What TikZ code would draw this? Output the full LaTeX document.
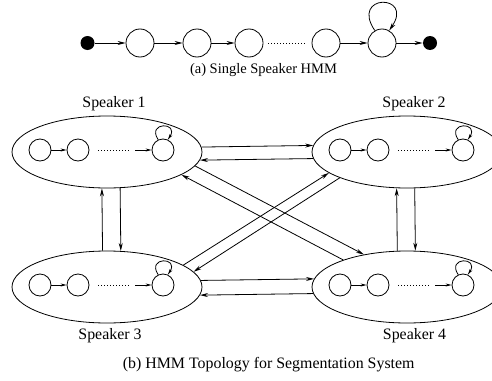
\documentclass[tikz,border=0pt]{standalone}
\usepackage{fontspec}
\setmainfont{Liberation Serif}
\usetikzlibrary{shapes.geometric,arrows.meta,calc}
\tikzset{
  arr/.style={-{Stealth[length=8pt,width=4pt]}},
  sarr/.style={-{Stealth[length=6pt,width=3pt]}},
  state/.style={circle,draw,minimum size=28pt,inner sep=0pt},
  sstate/.style={circle,draw,minimum size=22pt,inner sep=0pt},
  blackdot/.style={circle,fill,minimum size=14pt,inner sep=0pt},
  spk/.style={ellipse,draw,minimum width=190pt,minimum height=72pt,inner sep=0pt},
  lbl/.style={font=\fontsize{15.9}{18}\selectfont,inner sep=0pt},
  capa/.style={font=\fontsize{14.5}{17}\selectfont,inner sep=0pt},
  dotline/.style={dash pattern=on 0.8pt off 2.2pt}
}
\newcommand{\spkunit}[3]{%
  \node[spk] (#1) at (#2,#3) {};
  \node[sstate] (#1a) at ($(#2,#3)+(-67,2)$) {};
  \node[sstate] (#1b) at ($(#2,#3)+(-29,2)$) {};
  \node[sstate] (#1c) at ($(#2,#3)+(56,2)$) {};
  \coordinate (#1p) at ($(#2,#3)+(-9,2)$);
  \coordinate (#1q) at ($(#2,#3)+(23,2)$);
  \coordinate (#1r) at ($(#2,#3)+(28,2)$);
  \draw[sarr] (#1a) -- (#1b);
  \draw[dotline] (#1p) -- (#1q);
  \draw[sarr] (#1r) -- (#1c);
  \draw[sarr] (#1c.115) .. controls +(-12,18) and +(12,18) .. (#1c.65);
}
\begin{document}
\begin{tikzpicture}[x=1pt,y=1pt,line width=0.8pt]
\useasboundingbox (0,0) rectangle (492,-380);
% (a) single speaker HMM
\node[blackdot] (d0) at (87.5,-43) {};
\node[state] (t1) at (140,-43) {};
\node[state] (t2) at (197,-43) {};
\node[state] (t3) at (249,-43) {};
\node[state] (t4) at (326,-43) {};
\node[state] (t5) at (382,-43) {};
\node[blackdot] (d1) at (430,-43) {};
\coordinate (ta) at (268,-43);
\coordinate (tb) at (305,-43);
\draw[arr] (d0) -- (t1);
\draw[arr] (t1) -- (t2);
\draw[arr] (t2) -- (t3);
\draw[dotline] (ta) -- (tb);
\draw[arr] (t4) -- (t5);
\draw[arr] (t5) -- (d1);
\draw[arr] (t5.120) .. controls +(-25,37) and +(25,37) .. (t5.60);
\node[capa] (cap1) at (263.5,-70) {(a) Single Speaker HMM};
% (b) topology
\spkunit{s1}{107}{-152}
\spkunit{s2}{407}{-152}
\spkunit{s3}{107}{-287}
\spkunit{s4}{407}{-287}
\node[lbl] (l1) at (114,-104) {Speaker 1};
\node[lbl] (l2) at (414,-104) {Speaker 2};
\node[lbl] (l3) at (110,-336) {Speaker 3};
\node[lbl] (l4) at (414.5,-336) {Speaker 4};
\node[lbl] (cap2) at (268.7,-365) {(b) HMM Topology for Segmentation System};
% connectors
\draw[arr] (s1.3.66) -- (s2.176.34);
\draw[arr] (s2.184.94) -- (s1.355.06);
\draw[arr] (s3.97.92) -- (s1.262.08);
\draw[arr] (s1.290.03) -- (s3.69.97);
\draw[arr] (s4.105.6) -- (s2.254.4);
\draw[arr] (s2.282.57) -- (s4.77.43);
\draw[arr] (s3.4.3) -- (s4.175.7);
\draw[arr] (s4.184.3) -- (s3.355.7);
\draw[arr] (s1.351.83) -- (s4.143.97);
\draw[arr] (s4.157.15) -- (s1.343.02);
\draw[arr] (s3.16.35) -- (s2.195.74);
\draw[arr] (s2.201.65) -- (s3.10.9);
\end{tikzpicture}
\end{document}
